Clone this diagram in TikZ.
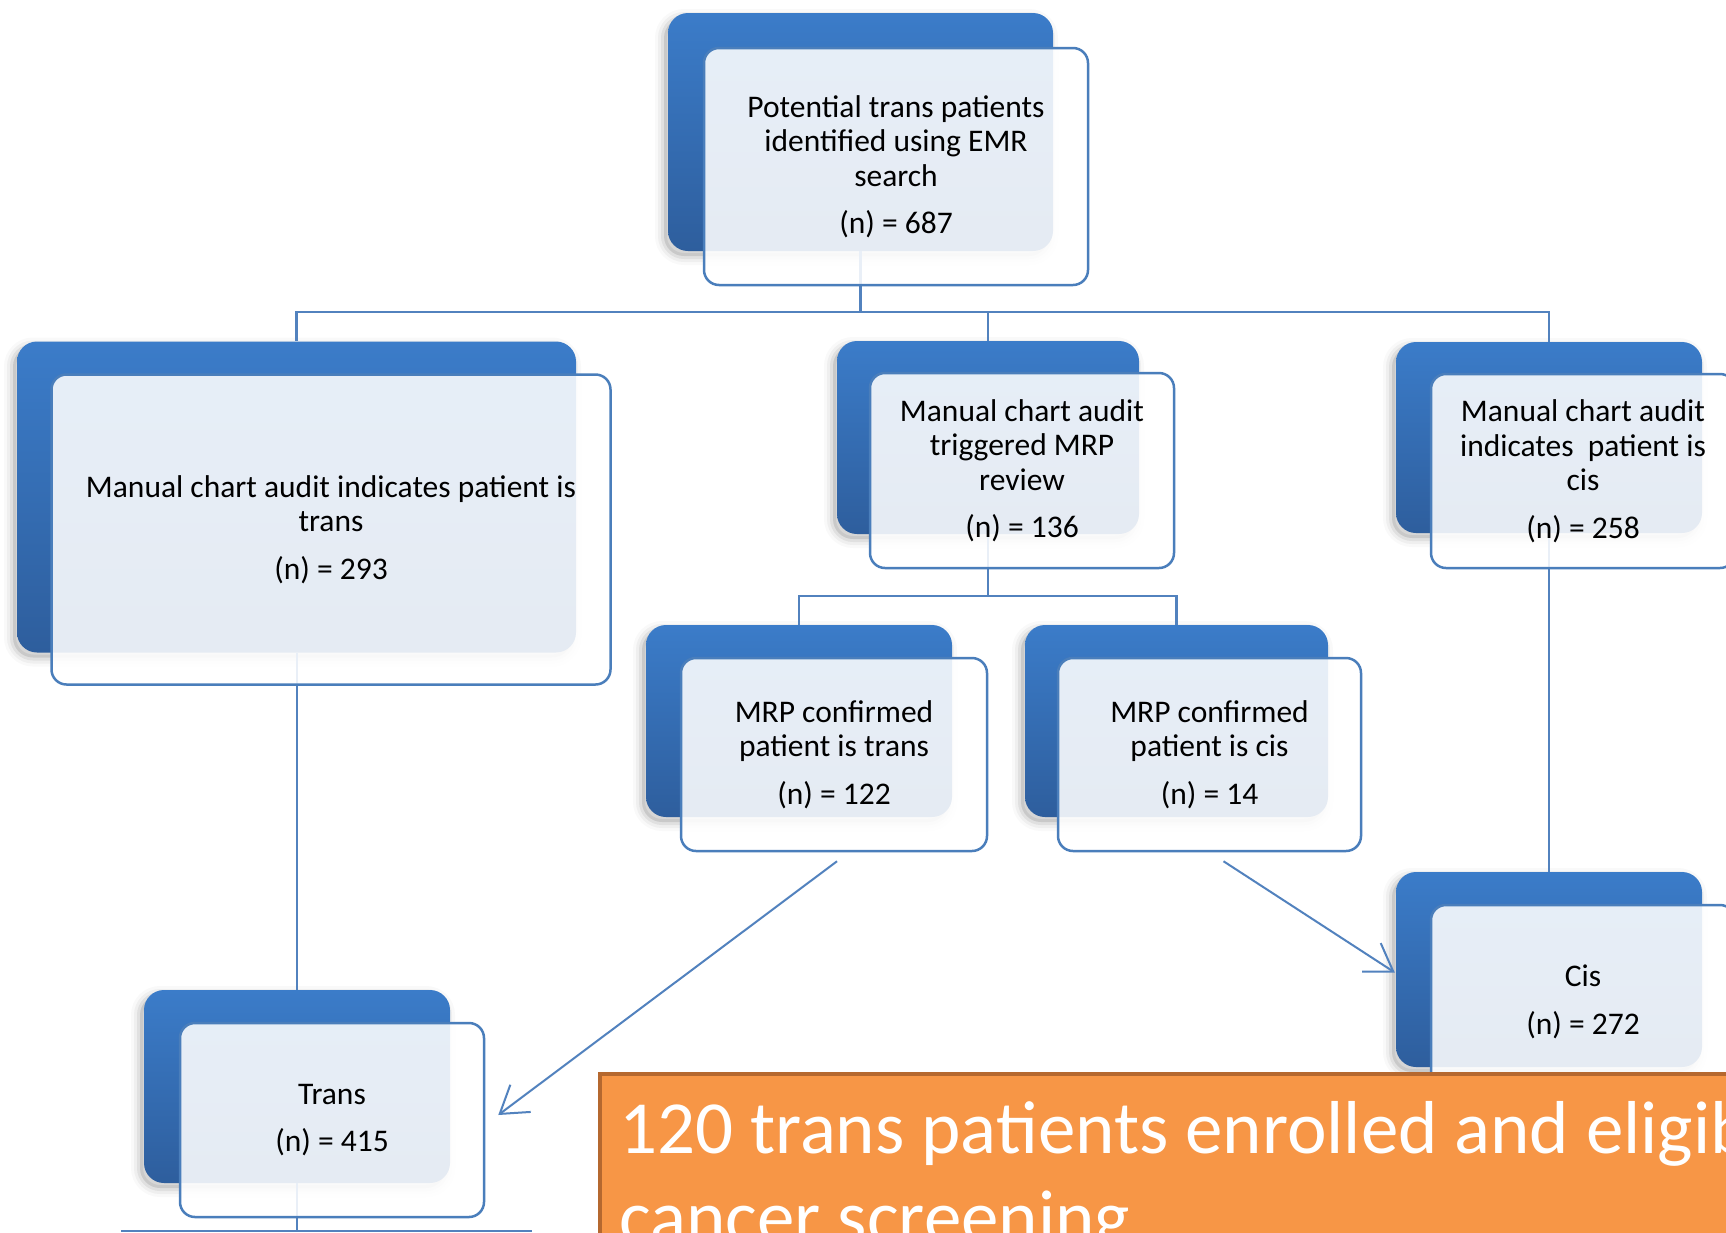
\documentclass[tikz,border=0pt]{standalone}
\usepackage{fontspec}
\setmainfont{Carlito}
\usetikzlibrary{arrows.meta,shadows,calc}
\definecolor{bluetop}{HTML}{3B7CC9}
\definecolor{bluebot}{HTML}{2E5E9D}
\definecolor{edgecol}{HTML}{4A7EBB}
\definecolor{conncol}{HTML}{5282BE}
\definecolor{orangefill}{HTML}{F79646}
\definecolor{orangeedge}{HTML}{B5682F}
\newcommand\bxfont{\fontsize{31.5}{34.5}\selectfont}
\newcommand\bigfont{\fontsize{75}{89}\selectfont}
\begin{document}
\begin{tikzpicture}[x=1pt,y=-1pt,
  backbox/.style={rounded corners=20pt, top color=bluetop, bottom color=bluebot, draw=none, inner sep=0pt,
    general shadow={fill=black, opacity=0.10, shadow xshift=-4pt, shadow yshift=-5pt},
    general shadow={draw=black, line width=6pt, opacity=0.06, shadow xshift=-4pt, shadow yshift=-5pt},
    general shadow={draw=black, line width=12pt, opacity=0.04, shadow xshift=-4pt, shadow yshift=-5pt},
    general shadow={draw=black, line width=18pt, opacity=0.025, shadow xshift=-4pt, shadow yshift=-5pt}},
  frontbox/.style={rounded corners=15pt, draw=edgecol, line width=2.5pt, fill=white, fill opacity=0.88,
    text opacity=1, inner sep=0pt, align=center, font=\bxfont, text=black},
  conn/.style={draw=conncol, line width=2.5pt},
  arr/.style={draw=conncol, line width=2pt, -{Straight Barb[length=26pt,width=34pt,line width=2pt]}},
  bigtext/.style={anchor=base west, text=white, font=\bigfont, inner sep=0pt}
]
\useasboundingbox (0,0) rectangle (1726,1232);
\clip (0,0) rectangle (1726,1232);
\fill[white] (0,0) rectangle (1726,1232);

% back boxes
\node[backbox, minimum width=385pt, minimum height=238pt] (b1) at (860.5,132) {};
\node[backbox, minimum width=559pt, minimum height=311pt] (b2) at (296.5,497) {};
\node[backbox, minimum width=302pt, minimum height=193pt] (b3) at (988,437.5) {};
\node[backbox, minimum width=306pt, minimum height=191pt] (b4) at (1549,437.5) {};
\node[backbox, minimum width=306pt, minimum height=192pt] (b5) at (799,721) {};
\node[backbox, minimum width=303pt, minimum height=192pt] (b6) at (1176.5,721) {};
\node[backbox, minimum width=306pt, minimum height=195pt] (b7) at (1549,969.5) {};
\node[backbox, minimum width=306pt, minimum height=193pt] (b8) at (297,1086.5) {};

% helper coordinates
\coordinate (h1) at (0,312);
\coordinate (h2) at (0,596);
\coordinate (h3) at (0,1231);
\coordinate (bl) at (121,1231);
\coordinate (br) at (532,1231);

% connectors
\draw[conn] (b1.south) -- (b1.south |- h1) -| (b2.north);
\draw[conn] (b1.south |- h1) -| (b3.north);
\draw[conn] (b1.south |- h1) -| (b4.north);
\draw[conn] (b3.south) -- (b3.south |- h2) -| (b5.north);
\draw[conn] (b3.south |- h2) -| (b6.north);
\draw[conn] (b8.north |- b2.south) -- (b8.north);
\draw[conn] (b4.south) -- (b7.north);
\draw[conn] (b8.south) -- (b8.south |- h3);
\draw[conn] (bl) -- (br);

% front boxes
\node[frontbox, minimum width=384pt, minimum height=237pt] (f1) at (896,166.5)
  {Potential trans patients\\identified using EMR\\search\\[13pt](n) = 687};
\node[frontbox, minimum width=559pt, minimum height=310pt] (f2) at (331,529.5)
  {Manual chart audit indicates patient is\\trans\\[13pt](n) = 293};
\node[frontbox, minimum width=304pt, minimum height=195pt] (f3) at (1022,470.5)
  {Manual chart audit\\triggered MRP\\review\\[13pt](n) = 136};
\node[frontbox, minimum width=304pt, minimum height=194pt] (f4) at (1583,471)
  {Manual chart audit\\indicates~ patient is\\cis\\[13pt](n) = 258};
\node[frontbox, minimum width=306pt, minimum height=193pt] (f5) at (834,754.5)
  {MRP confirmed\\patient is trans\\[13pt](n) = 122};
\node[frontbox, minimum width=303pt, minimum height=193pt] (f6) at (1209.5,754.5)
  {MRP confirmed\\patient is cis\\[13pt](n) = 14};
\node[frontbox, minimum width=304pt, minimum height=194pt] (f7) at (1583,1002)
  {Cis\\[13pt](n) = 272};
\node[frontbox, minimum width=304pt, minimum height=194pt] (f8) at (332,1120)
  {Trans\\[13pt](n) = 415};

% arrows
\draw[arr] ($(f5.south)+(3,9)$) -- ($(f8.east)+(13,-5)$);
\draw[arr] ($(f6.south)+(14,9)$) -- ($(b7.west)+(-1,3)$);

% orange banner
\node[draw=orangeedge, line width=4pt, fill=orangefill, minimum width=1200pt, minimum height=300pt,
  anchor=north west, inner sep=0pt] (ob) at (598,1072) {};
\node[bigtext] (ot1) at (619,1153) {120 trans patients enrolled and eligible for};
\node[bigtext] (ot2) at (619,1242) {cancer screening};
\end{tikzpicture}
\end{document}
